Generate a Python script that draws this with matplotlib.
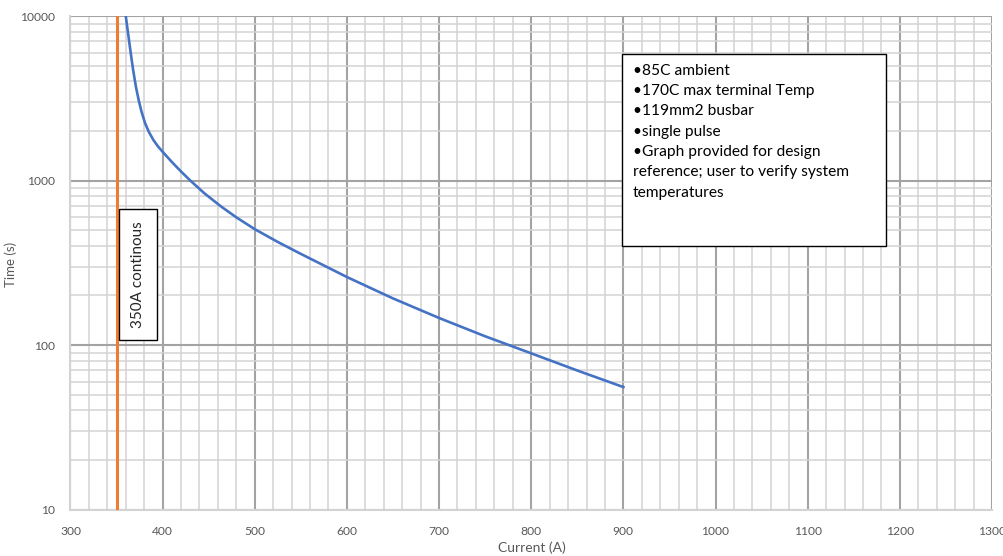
import matplotlib.pyplot as plt
import numpy as np
from matplotlib.patches import Rectangle
from matplotlib.ticker import FixedLocator, NullFormatter

plt.rcParams['font.family'] = ['Lato', 'DejaVu Sans']

current = [360, 362, 364, 366, 368, 371, 374, 377, 381, 385, 390, 395, 400,
           410, 420, 430, 445, 463, 480, 500, 525, 550, 600, 650, 700, 750,
           800, 850, 900]
time_s = [10000, 8240, 6790, 5620, 4700, 3715, 3085, 2630, 2228, 1977, 1762,
          1611, 1495, 1296, 1134, 1000, 839, 698, 597, 506, 423, 358, 259,
          192, 146, 113, 89, 70, 55.5]
continuous = 350
x_ticks = [300, 400, 500, 600, 700, 800, 900, 1000, 1100, 1200, 1300]
y_ticks = [10, 100, 1000, 10000]
notes = ['•85C ambient',
         '•170C max terminal Temp',
         '•119mm2 busbar',
         '•single pulse',
         '•Graph provided for design\nreference; user to verify system\ntemperatures']

fig = plt.figure(figsize=(10.04, 5.56), dpi=100)
ax = fig.add_axes([0.0702, 0.0836, 0.9178, 0.8876])

ax.set_yscale('log')
ax.set_xlim(300, 1300)
ax.set_ylim(10, 10000)

ax.set_xticks(x_ticks)
ax.set_xticklabels([str(v) for v in x_ticks])
ax.set_yticks(y_ticks)
ax.set_yticklabels([str(v) for v in y_ticks])
ax.xaxis.set_minor_locator(FixedLocator(np.arange(300, 1301, 20)))
ax.yaxis.set_minor_locator(FixedLocator(
    [m * 10.0 ** d for d in range(1, 4) for m in range(2, 10)]))
ax.xaxis.set_minor_formatter(NullFormatter())
ax.yaxis.set_minor_formatter(NullFormatter())

ax.grid(which='major', color='#a3a3a3', linewidth=1.5)
ax.grid(which='minor', color='#d3d3d3', linewidth=1.1)
ax.set_axisbelow(True)
ax.tick_params(which='both', length=0, labelsize=8.7, labelcolor='#595959')
ax.tick_params(axis='x', pad=12)
ax.tick_params(axis='y', pad=11)
for side in ['top', 'right']:
    ax.spines[side].set_visible(False)
for side in ['left', 'bottom']:
    ax.spines[side].set_color('#d3d3d3')
    ax.spines[side].set_linewidth(1.5)

ax.plot(current, time_s, color='#4472C4', linewidth=1.9, zorder=3)
ax.axvline(continuous, color='#ED7D31', linewidth=2.2, zorder=3)

ax.text(373, 267, '350A continous', rotation=90, ha='center', va='center',
        fontsize=11, color='#262626', zorder=4,
        bbox=dict(boxstyle='square,pad=0.8', facecolor='white',
                  edgecolor='black', linewidth=1.0))

ax.add_patch(Rectangle((0.5985, 0.534), 0.2865, 0.389, transform=ax.transAxes,
                       facecolor='white', edgecolor='black', linewidth=1.0,
                       zorder=4))
ax.text(0.6104, 0.903, '\n'.join(notes), transform=ax.transAxes,
        ha='left', va='top', fontsize=11.2, color='black', linespacing=1.57,
        zorder=5)

fig.text(0.53, 0.004, 'Current (A)', ha='center', va='bottom', fontsize=10,
         color='#595959')
fig.text(0.004, 0.525, 'Time (s)', ha='left', va='center', rotation=90,
         fontsize=9.5, color='#595959')

fig.savefig('out.png', dpi=100)
